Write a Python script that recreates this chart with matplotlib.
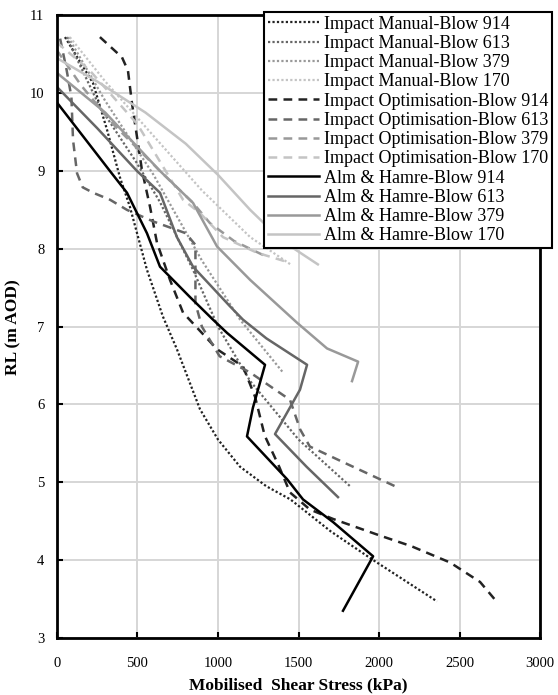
import matplotlib.pyplot as plt

# Impact Manual (dotted)
man914_x = [50, 224, 311, 391, 453, 559, 658, 745, 888, 1000, 1137, 1300, 1450, 1700, 1957, 2360]
man914_y = [10.72, 10.13, 9.53, 8.92, 8.54, 7.73, 7.13, 6.71, 5.94, 5.55, 5.2, 4.95, 4.78, 4.37, 4.01, 3.47]
man613_x = [60, 267, 497, 640, 845, 1000, 1200, 1500, 1820]
man613_y = [10.72, 9.82, 9.1, 8.6, 7.73, 7.0, 6.3, 5.55, 4.95]
man379_x = [70, 300, 600, 900, 1137, 1404]
man379_y = [10.72, 9.9, 8.95, 7.85, 7.09, 6.41]
man170_x = [80, 300, 600, 900, 1200, 1450]
man170_y = [10.72, 10.15, 9.45, 8.75, 8.15, 7.8]

# Impact Optimisation (dashed)
opt914_x = [267, 404, 441, 466, 497, 528, 578, 621, 702, 783, 994, 1155, 1230, 1290, 1380,
            1447, 1571, 1714, 2000, 2200, 2441, 2627, 2733]
opt914_y = [10.72, 10.46, 10.29, 9.87, 9.44, 9.01, 8.54, 8.08, 7.6, 7.18, 6.71, 6.49, 6.1, 5.6, 5.2,
            4.87, 4.65, 4.53, 4.32, 4.18, 3.97, 3.72, 3.46]
opt613_x = [20, 60, 90, 100, 125, 160, 225, 330, 435, 600, 800, 860, 860, 900, 1010, 1200,
            1447, 1510, 1570, 1776, 2120]
opt613_y = [10.7, 10.3, 9.95, 9.4, 8.97, 8.79, 8.72, 8.63, 8.5, 8.35, 8.2, 8.05, 7.3, 7.0, 6.62, 6.41,
            6.06, 5.68, 5.46, 5.26, 4.93]
opt379_x = [0, 150, 350, 640, 845, 950, 1100, 1300]
opt379_y = [10.55, 10.1, 9.6, 9.0, 8.59, 8.33, 8.1, 7.9]
opt170_x = [0, 200, 500, 783, 888, 1031, 1242, 1447]
opt170_y = [10.65, 10.3, 9.6, 8.63, 8.46, 8.15, 7.95, 7.82]

# Alm & Hamre (solid)
alm914_x = [0, 329, 435, 559, 640, 826, 969, 1056, 1292, 1217, 1180, 1429, 1528, 1714, 1963, 1776]
alm914_y = [9.88, 9.0, 8.72, 8.2, 7.77, 7.38, 7.09, 6.92, 6.51, 5.96, 5.59, 5.04, 4.78, 4.49, 4.05, 3.35]
alm613_x = [0, 250, 497, 640, 745, 845, 1075, 1155, 1300, 1553, 1509, 1354, 1550, 1745]
alm613_y = [10.08, 9.55, 9.0, 8.72, 8.15, 7.77, 7.26, 7.09, 6.85, 6.51, 6.19, 5.62, 5.2, 4.81]
alm379_x = [0, 300, 640, 845, 994, 1200, 1491, 1677, 1870, 1832]
alm379_y = [10.26, 9.75, 9.0, 8.59, 8.03, 7.6, 7.05, 6.72, 6.55, 6.3]
alm170_x = [0, 250, 550, 800, 1000, 1200, 1400, 1620]
alm170_y = [10.45, 10.15, 9.75, 9.35, 8.95, 8.5, 8.1, 7.8]

blows = ["914", "613", "379", "170"]
greys = ["#222222", "#666666", "#999999", "#c4c4c4"]
solid_greys = ["#000000", "#666666", "#999999", "#c4c4c4"]

plt.rcParams['font.family'] = ['Liberation Serif', 'DejaVu Serif']

fig = plt.figure(figsize=(5.58, 6.95), dpi=100)
ax = fig.add_axes([0.102, 0.082, 0.866, 0.896])

manual = [(man914_x, man914_y), (man613_x, man613_y), (man379_x, man379_y), (man170_x, man170_y)]
optim = [(opt914_x, opt914_y), (opt613_x, opt613_y), (opt379_x, opt379_y), (opt170_x, opt170_y)]
alm = [(alm914_x, alm914_y), (alm613_x, alm613_y), (alm379_x, alm379_y), (alm170_x, alm170_y)]

for (x, y), b, c in zip(manual, blows, greys):
    ax.plot(x, y, linestyle=(0, (1, 1)), color=c, lw=1.6, label="Impact Manual-Blow " + b)
for (x, y), b, c in zip(optim, blows, greys):
    ax.plot(x, y, linestyle=(0, (3.5, 2.5)), color=c, lw=1.8, label="Impact Optimisation-Blow " + b)
for (x, y), b, c in zip(alm, blows, solid_greys):
    ax.plot(x, y, linestyle='-', color=c, lw=1.8, label="Alm & Hamre-Blow " + b)

ax.set_xlim(0, 3000)
ax.set_ylim(3, 11)
ax.set_xticks(range(0, 3001, 500))
ax.set_yticks(range(3, 12))
ax.grid(True, color="#d6d6d6", lw=1.4)
ax.set_axisbelow(True)
ax.tick_params(direction='in', length=4, width=1.5, labelsize=10.5)
ax.tick_params(axis='x', pad=14)
ax.tick_params(axis='y', pad=9)
for s in ax.spines.values():
    s.set_linewidth(2)
    s.set_color('black')

ax.set_xlabel("Mobilised  Shear Stress (kPa)", fontsize=12.5, fontweight='bold', labelpad=5)
ax.set_ylabel("RL (m AOD)", fontsize=12.5, fontweight='bold', labelpad=6)

leg = ax.legend(loc='upper right', bbox_to_anchor=(552 / 558, 1 - 12 / 695),
                bbox_transform=fig.transFigure, fontsize=13, frameon=True, fancybox=False,
                handlelength=2.8, handletextpad=0.3, labelspacing=0.125, borderpad=0.2,
                borderaxespad=0)
leg.get_frame().set_edgecolor('black')
leg.get_frame().set_linewidth(1.5)
leg.get_frame().set_alpha(1)

fig.savefig("out.png", dpi=100)
